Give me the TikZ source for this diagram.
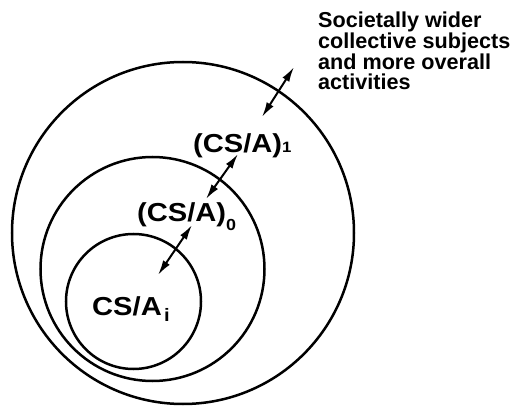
\documentclass[tikz,border=0pt]{standalone}
\usepackage{fontspec}
\setmainfont{Liberation Sans}
\usetikzlibrary{arrows.meta}
\begin{document}
\begin{tikzpicture}[x=1pt,y=-1pt,
  ring/.style={draw, circle, line width=2.5pt, inner sep=0pt},
  dbl/.style={line width=2pt, {Latex[length=15pt,width=8pt]}-{Latex[length=15pt,width=8pt]}},
  lab/.style={inner sep=0pt, anchor=base west, xscale=1.12, transform shape, font=\fontsize{26}{26}\selectfont\bfseries},
  note/.style={inner sep=0pt, anchor=north west, align=left, font=\fontsize{21.6}{20.7}\selectfont\bfseries}
]
\useasboundingbox (0,0) rectangle (515,409);
% circles
\node[ring, minimum size=342pt] (outer) at (183,233) {};
\node[ring, minimum size=224pt] (middle) at (152.5,269) {};
\node[ring, minimum size=135pt] (inner) at (133.5,301.5) {};
% labels
\node[lab] (l1) at (193,153) {(CS/A)\raisebox{0pt}{\fontsize{15}{15}\selectfont 1}};
\node[lab] (l0) at (137,222) {(CS/A)\raisebox{-9pt}{\fontsize{16}{16}\selectfont 0}};
\node[lab] (li) at (92,316) {CS/A\kern2pt\raisebox{-6pt}{\fontsize{18}{18}\selectfont i}};
\node[note] (txt) at (318,12) {Societally wider\\collective subjects\\and more overall\\activities};
% arrow ends
\coordinate (a1t) at (294,67);
\coordinate (a1b) at (262,117);
\coordinate (a2t) at (238,154);
\coordinate (a2b) at (206,199);
\coordinate (a3t) at (192,225);
\coordinate (a3b) at (158,275);
\draw[dbl] (a1b) -- (a1t);
\draw[dbl] (a2b) -- (a2t);
\draw[dbl] (a3b) -- (a3t);
\end{tikzpicture}
\end{document}
